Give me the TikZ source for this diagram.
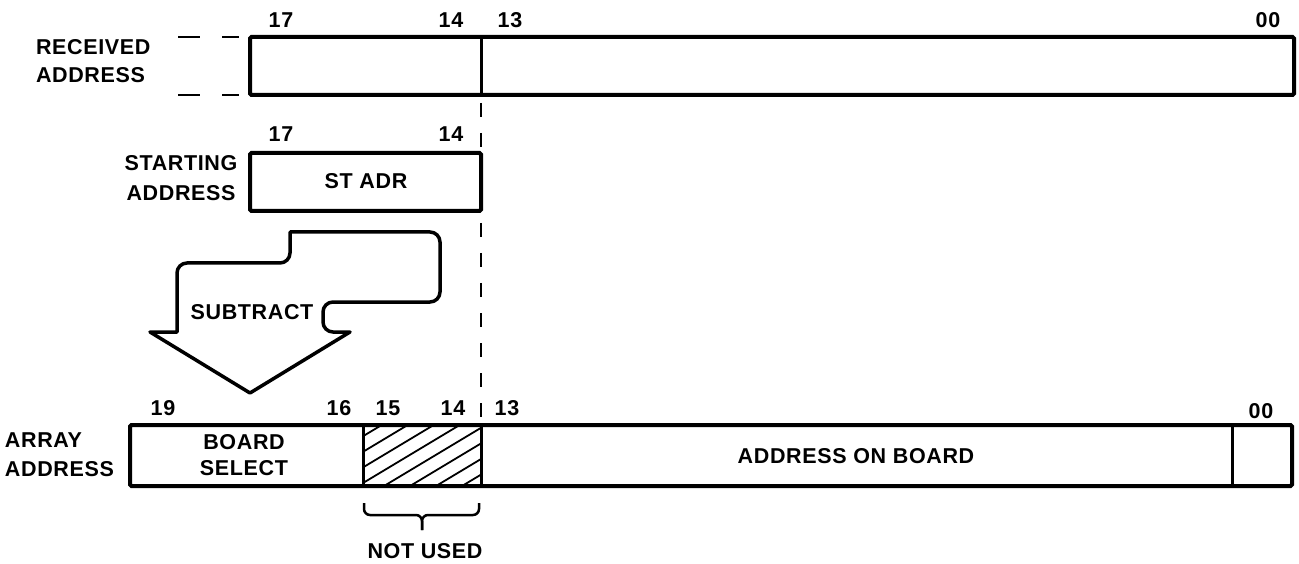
\documentclass[tikz,border=0pt]{standalone}
\usepackage{fontspec}
\setmainfont{Liberation Sans}[LetterSpace=3]
\begin{document}
\begin{tikzpicture}[x=1pt,y=-1pt,
  every node/.style={font=\fontsize{21.5}{28}\selectfont\bfseries, inner sep=0pt, outer sep=0pt},
  box/.style={line width=4pt, rounded corners=1.5pt},
  divider/.style={line width=3pt},
  guide/.style={line width=2.5pt, dash pattern=on 14pt off 16pt, dash phase=-8pt},
  sidedash/.style={line width=2pt},
  hatch/.style={line width=1.8pt},
  num/.style={anchor=center},
  lbl/.style={anchor=west, align=left}]
\useasboundingbox (0,0) rectangle (1299,564);

% ---- coordinates
\coordinate (rtl) at (250,37);  \coordinate (rbr) at (1294,95);
\coordinate (rdt) at (481,37);  \coordinate (rdb) at (481,95);
\coordinate (stl) at (250,153); \coordinate (sbr) at (481,211);
\coordinate (atl) at (130,425); \coordinate (abr) at (1292,486);
\coordinate (adt) at (481,425);

% ---- received address
\draw[box] (rtl) rectangle (rbr);
\draw[divider] (rdt) -- (rdb);
\draw[sidedash] (178,37) -- (200,37) (222,37) -- (239,37);
\draw[sidedash] (178,95) -- (200,95) (222,95) -- (239,95);
\node[lbl] (recv) at (36,61) {RECEIVED\\ADDRESS};
\node[num] (r17) at (281,20) {17};
\node[num] (r14) at (451,20) {14};
\node[num] (r13) at (510,20) {13};
\node[num] (r00) at (1268,20) {00};

% ---- starting address
\draw[box] (stl) rectangle (sbr);
\node (stadr) at (366,181) {ST ADR};
\node[align=center] (start) at (181,178) {STARTING\\[2pt]ADDRESS};
\node[num] (s17) at (281,134) {17};
\node[num] (s14) at (451,134) {14};

% ---- dashed guide
\draw[guide] (rdb) -- (adt);

% ---- subtract arrow
\draw[line width=3.5pt, line join=round]
  (290,232) [rounded corners=10pt] -- (440,232) -- (440,302) -- (323,302) -- (323,332)
  [rounded corners=0pt] -- (350,332) -- (250,393) -- (150,332) -- (177,332)
  [rounded corners=10pt] -- (177,263) -- (290,263) [rounded corners=0pt] -- cycle;
\node (sub) at (252,312) {SUBTRACT};

% ---- array address
\begin{scope}
  \clip (363,425) rectangle (481,486);
  \foreach \i in {0,...,9} \draw[hatch] ({254+\i*26},486) -- ++(110,-66);
\end{scope}
\draw[box] (atl) rectangle (abr);
\draw[divider] (363,425) -- (363,486);
\draw[divider] (481,425) -- (481,486);
\draw[divider] (1232,425) -- (1232,486);
\node[lbl] (arr) at (5,455) {ARRAY\\[1pt]ADDRESS};
\node[align=center] (bsel) at (244,455) {BOARD\\[-2pt]SELECT};
\node (aob) at (856,456) {ADDRESS ON BOARD};
\node[num] (a19) at (163,408) {19};
\node[num] (a16) at (339,408) {16};
\node[num] (a15) at (388,408) {15};
\node[num] (a14) at (453,408) {14};
\node[num] (a13) at (507,408) {13};
\node[num] (a00) at (1261,411) {00};

% ---- brace
\draw[line width=2.5pt, rounded corners=6pt]
  (364,503) -- (364,515) -- (422,515) -- (422,530);
\draw[line width=2.5pt, rounded corners=6pt]
  (422,530) -- (422,515) -- (479,515) -- (479,503);
\node (nu) at (425,551) {NOT USED};
\end{tikzpicture}
\end{document}
